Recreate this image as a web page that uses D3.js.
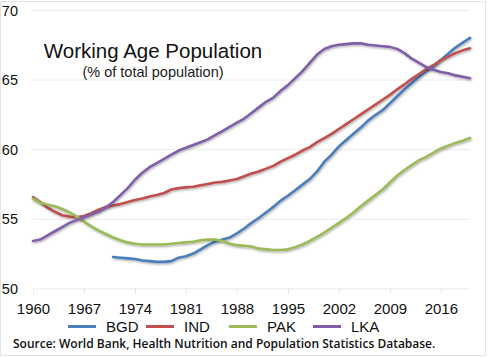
<!DOCTYPE html>
<html><head><meta charset="utf-8">
<script src="https://cdn.jsdelivr.net/npm/d3@7"></script>
<style>
html,body{margin:0;padding:0;background:#fff;}
svg{display:block;}
</style>
</head><body>
<svg id="chart" width="497" height="357"></svg>
<script>
const years = d3.range(1960, 2021);
const seriesNames = ["BGD", "IND", "PAK", "LKA"];
const seriesColors = ["#4a7ebb", "#c0504d", "#9bbb59", "#7f5fa8"];
const xTickValues = [1960, 1967, 1974, 1981, 1988, 1995, 2002, 2009, 2016];
const yTickValues = [50, 55, 60, 65, 70];

const BGD = [null,null,null,null,null,null,null,null,null,null,null,
  52.25,52.2,52.15,52.1,52.0,51.95,51.9,51.9,51.95,52.2,
  52.3,52.5,52.8,53.1,53.35,53.5,53.65,53.95,54.3,54.7,
  55.05,55.45,55.85,56.3,56.65,57.05,57.45,57.85,58.4,59.1,
  59.6,60.2,60.65,61.1,61.55,62.05,62.45,62.8,63.3,63.8,
  64.3,64.75,65.2,65.6,65.95,66.4,66.85,67.3,67.65,68.0];
const IND = [56.55,56.2,55.8,55.5,55.25,55.15,55.1,55.2,55.4,55.65,55.85,
  55.95,56.05,56.2,56.35,56.45,56.6,56.7,56.85,57.1,57.2,
  57.25,57.3,57.4,57.5,57.6,57.65,57.75,57.85,58.05,58.25,
  58.4,58.6,58.8,59.1,59.35,59.6,59.9,60.15,60.5,60.8,
  61.1,61.45,61.8,62.15,62.5,62.85,63.2,63.55,63.9,64.3,
  64.65,65.05,65.4,65.75,66.05,66.4,66.65,66.9,67.1,67.25];
const PAK = [56.45,56.15,56.0,55.9,55.7,55.45,55.15,54.8,54.45,54.15,53.9,
  53.65,53.45,53.3,53.2,53.15,53.15,53.15,53.15,53.2,53.25,
  53.3,53.35,53.45,53.5,53.5,53.4,53.2,53.1,53.05,53.0,
  52.85,52.8,52.75,52.75,52.8,52.95,53.15,53.4,53.7,54.0,
  54.35,54.7,55.05,55.45,55.9,56.3,56.7,57.1,57.6,58.1,
  58.5,58.85,59.2,59.45,59.75,60.05,60.25,60.45,60.6,60.8];
const LKA = [53.4,53.5,53.8,54.1,54.4,54.7,54.9,55.1,55.3,55.5,55.8,
  56.2,56.7,57.2,57.8,58.3,58.7,59.0,59.3,59.6,59.9,
  60.1,60.3,60.5,60.7,61.0,61.3,61.6,61.9,62.2,62.6,
  63.0,63.4,63.7,64.2,64.6,65.1,65.6,66.2,66.8,67.2,
  67.4,67.5,67.55,67.6,67.6,67.5,67.45,67.4,67.35,67.2,
  66.9,66.5,66.2,65.9,65.7,65.55,65.45,65.3,65.2,65.1];
const seriesValues = [BGD, IND, PAK, LKA];

const titleText = "Working Age Population";
const subtitleText = "(% of total population)";
const sourceText = "Source: World Bank, Health Nutrition and Population Statistics Database.";

// layout
const legendStarts = [68, 146, 229, 313];

const svg = d3.select("#chart");
const font = "'Liberation Sans', Arial, Helvetica, sans-serif";

svg.append("rect").attr("x", 0.5).attr("y", 1.5).attr("width", 485).attr("height", 354)
  .attr("fill", "#fff").attr("stroke", "#e4e4e4");

const x = d3.scaleLinear().domain([1960, 2020]).range([33, 470]);
const y = d3.scaleLinear().domain([50, 70]).range([288.3, 10]);

const defs = svg.append("defs");
const f = defs.append("filter").attr("id", "sh").attr("x", "-5%").attr("y", "-5%").attr("width", "110%").attr("height", "110%");
f.append("feDropShadow").attr("dx", 0.8).attr("dy", 1.2).attr("stdDeviation", 0.9)
  .attr("flood-color", "#000").attr("flood-opacity", 0.35);

const yAxis = d3.axisLeft(y).tickValues(yTickValues).tickSize(-(470 - 33)).tickFormat(d3.format("d"));
const gy = svg.append("g").attr("transform", "translate(33,0)").call(yAxis);
gy.select(".domain").remove();
gy.selectAll(".tick line").attr("stroke", "#ececec").attr("stroke-width", 1);
gy.selectAll(".tick text").attr("x", -15).attr("dy", "0.36em")
  .attr("font-family", font).attr("font-size", 14.5).attr("fill", "#111").attr("text-anchor", "end");

const xAxis = d3.axisBottom(x).tickValues(xTickValues).tickSize(5).tickPadding(10).tickFormat(d3.format("d"));
const gx = svg.append("g").attr("transform", `translate(0,${y(50)})`).call(xAxis);
gx.select(".domain").remove();
gx.selectAll(".tick line").attr("stroke", "#e6e6e6");
gx.selectAll(".tick text").attr("font-family", font).attr("font-size", 15).attr("fill", "#111");

const line = d3.line().defined(d => d[1] != null).x(d => x(d[0])).y(d => y(d[1]));
seriesNames.forEach((name, i) => {
  const pts = years.map((yr, j) => [yr, seriesValues[i][j]]);
  svg.append("path").datum(pts).attr("d", line)
    .attr("fill", "none").attr("stroke", seriesColors[i]).attr("stroke-width", 2.6)
    .attr("stroke-linejoin", "round").attr("stroke-linecap", "round")
    .attr("filter", "url(#sh)");
});

svg.append("text").attr("x", 153).attr("y", 58).attr("text-anchor", "middle")
  .attr("font-family", font).attr("font-size", 20.5).attr("fill", "#111").text(titleText);
svg.append("text").attr("x", 153).attr("y", 77).attr("text-anchor", "middle")
  .attr("font-family", font).attr("font-size", 14.5).attr("fill", "#222").text(subtitleText);

const lg = svg.append("g");
seriesNames.forEach((name, i) => {
  const lx = legendStarts[i];
  lg.append("line").attr("x1", lx).attr("x2", lx + 28).attr("y1", 326.5).attr("y2", 326.5)
    .attr("stroke", seriesColors[i]).attr("stroke-width", 3);
  lg.append("text").attr("x", lx + 38).attr("y", 332).attr("font-family", font)
    .attr("font-size", 15).attr("fill", "#111").text(name);
});

svg.append("text").attr("x", 13).attr("y", 348).attr("font-family", "'Open Sans', 'Noto Sans', sans-serif")
  .attr("font-size", 12).attr("font-weight", 600).attr("fill", "#111").text(sourceText);
</script>
</body></html>
